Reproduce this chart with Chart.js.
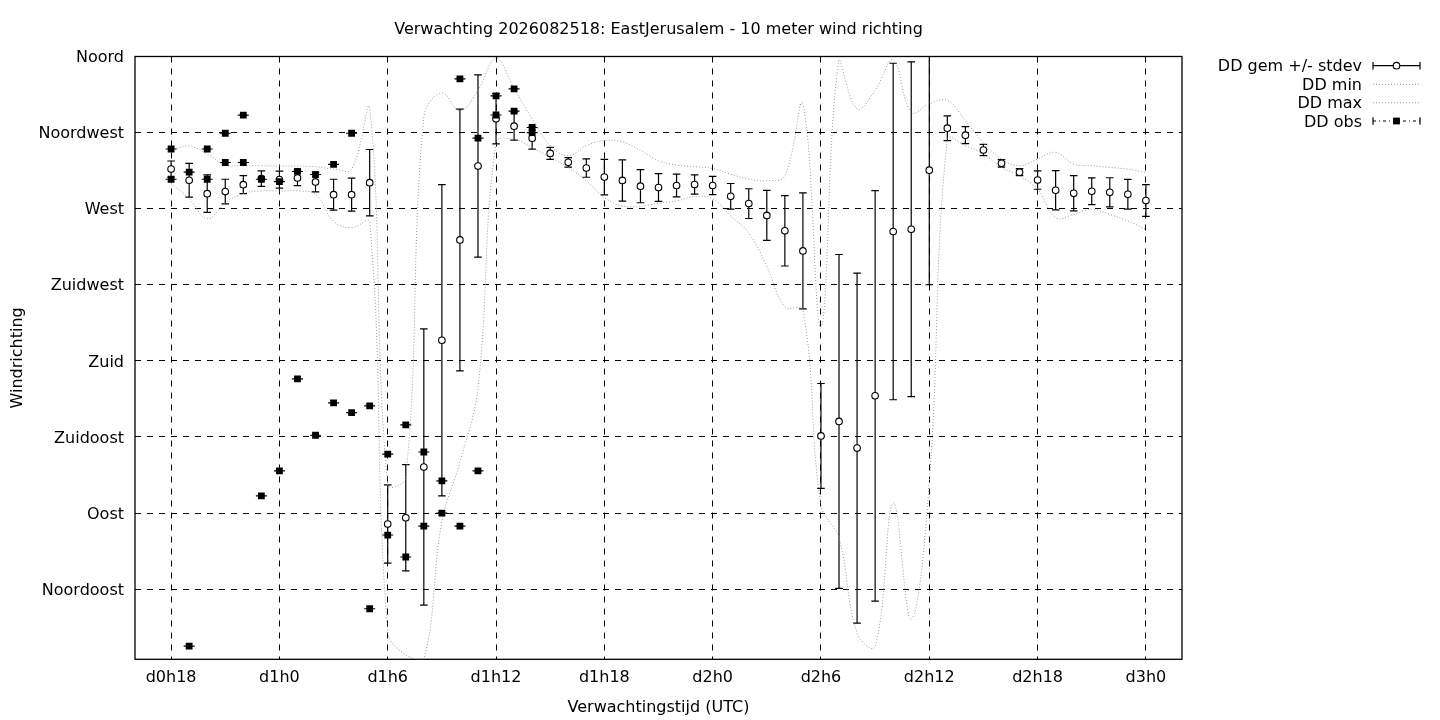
<!DOCTYPE html>
<html>
<head>
<meta charset="utf-8">
<title>Windrichting EastJerusalem</title>
<script src="https://cdn.jsdelivr.net/npm/chart.js@4.4.1/dist/chart.umd.min.js"></script>
<style>
  html, body { margin: 0; padding: 0; background: #fff; overflow: hidden; }
  #wrap { width: 1440px; height: 720px; }
</style>
</head>
<body>
<div id="wrap"><canvas id="chart" width="1440" height="720"></canvas></div>
<script>
const chartTitle = "Verwachting 2026082518: EastJerusalem - 10 meter wind richting";

// forecast hour, counted from d0h0
const hours = [18, 19, 20, 21, 22, 23, 24, 25, 26, 27, 28, 29, 30, 31, 32, 33, 34, 35, 36,
  37, 38, 39, 40, 41, 42, 43, 44, 45, 46, 47, 48, 49, 50, 51, 52, 53, 54, 55, 56, 57, 58,
  59, 60, 61, 62, 63, 64, 65, 66, 67, 68, 69, 70, 71, 72];

// ensemble mean wind direction (degrees) and its stdev
const meanDir = [293.4, 286.8, 278.9, 280.1, 284.2, 287.8, 287.2, 288.2, 285.8, 278.3, 278.3,
  285.4, 83.5, 87.2, 117.2, 192.2, 251.5, 295.2, 323.2, 318.8, 311.7, 302.7, 297.4, 294.0,
  288.7, 286.7, 283.3, 282.5, 283.7, 284.3, 283.7, 277.3, 273.0, 266.0, 256.9, 245.0, 135.6,
  144.2, 128.4, 159.3, 256.5, 257.8, 292.8, 317.6, 313.5, 304.7, 296.8, 291.6, 286.9, 280.9,
  279.1, 280.3, 279.7, 278.5, 274.8];
const stdDir = [4.8, 10.0, 11.1, 7.3, 5.3, 4.6, 5.0, 4.6, 5.9, 9.1, 9.8, 19.6, 23.1, 31.4,
  81.7, 92.0, 77.4, 53.9, 14.9, 8.3, 6.5, 3.6, 2.8, 5.4, 10.5, 12.2, 9.8, 8.2, 6.7, 5.7, 5.4,
  7.6, 8.8, 14.8, 20.8, 34.3, 31.0, 98.7, 103.5, 121.4, 99.5, 99.0, 67.8, 7.3, 5.0, 3.3, 2.2,
  2.1, 5.4, 11.6, 10.4, 7.9, 8.6, 8.8, 9.4];

// ensemble min / max
const minDir = [285, 276, 264, 273.5, 279, 280.5, 280.5, 280.5, 278.5, 262.6, 258.7, 262, 20,
  6, 3.5, 85, 120, 164, 309, 311, 306, 300.4, 294.4, 286.5, 276.5, 271.6, 271.5, 273.2, 274.6,
  277.1, 275.9, 265.6, 255.7, 235.9, 212, 210, 95, 75, 19, 11, 96, 27, 108, 311, 307.3, 302.3,
  294.4, 289.4, 281.5, 264.6, 266.6, 269.6, 266.6, 262.7, 257.7];
const maxDir = [304.5, 307, 302.3, 295.8, 295.4, 295.4, 295.2, 295.2, 294.8, 293.4, 293.4,
  329, 107, 111, 324, 338.5, 328, 340, 359, 341, 323.2, 307.3, 301.3, 307.3, 310.3, 309.5,
  304.5, 298.4, 295.8, 294.8, 293.8, 290.4, 287.5, 286.5, 289.4, 332, 200, 358, 329, 340, 358,
  327, 332, 334, 322, 309, 299.3, 295.4, 299.4, 303.3, 296.4, 295.4, 294.4, 293.4, 291.4];

// observations (two per hour)
const obsHours = [18, 18, 19, 19, 20, 20, 21, 21, 22, 22, 23, 23, 24, 24, 25, 25, 26, 26, 27, 27,
  28, 28, 29, 29, 30, 30, 31, 31, 32, 32, 33, 33, 34, 34, 35, 35, 36, 36, 37, 37, 38, 38];
const obsDir = [305.3, 287.4, 291.6, 11.3, 305.3, 287.4, 314.6, 297.3, 325.3, 297.3, 287.4,
  100.1, 286.0, 114.9, 292.0, 169.3, 290.2, 136.0, 296.2, 155.1, 314.6, 149.4, 153.4, 33.4,
  124.9, 77.0, 142.1, 64.0, 126.1, 82.3, 109.0, 90.0, 346.8, 82.3, 311.7, 114.9, 336.7, 325.4,
  340.8, 327.7, 318.0, 315.0];

const xTickValues = [18, 24, 30, 36, 42, 48, 54, 60, 66, 72];
const xTickLabels = ["d0h18", "d1h0", "d1h6", "d1h12", "d1h18", "d2h0", "d2h6", "d2h12", "d2h18", "d3h0"];
const yTickValues = [45, 90, 135, 180, 225, 270, 315, 360];
const yTickLabels = ["Noordoost", "Oost", "Zuidoost", "Zuid", "Zuidwest", "West", "Noordwest", "Noord"];

Chart.defaults.font.family = "'DejaVu Sans', sans-serif";
Chart.defaults.font.size = 16;
Chart.defaults.color = "#000";

const pts = (xs, ys) => xs.map((h, i) => ({ x: h, y: ys[i] }));

// error bars for the mean, tiny x-bars for obs, and the plot frame
const errorBars = {
  id: "errorBars",
  beforeDatasetsDraw(chart) {
    const { ctx, chartArea: a, scales: { x, y } } = chart;
    ctx.save();
    ctx.beginPath();
    ctx.rect(a.left, a.top, a.right - a.left, a.bottom - a.top);
    ctx.clip();
    ctx.strokeStyle = "#000";
    ctx.lineWidth = 1.2;
    ctx.setLineDash([]);
    hours.forEach((h, i) => {
      const px = x.getPixelForValue(h);
      const top = y.getPixelForValue(meanDir[i] + stdDir[i]);
      const bot = y.getPixelForValue(meanDir[i] - stdDir[i]);
      ctx.beginPath();
      ctx.moveTo(px, top); ctx.lineTo(px, bot);
      ctx.moveTo(px - 3.8, top); ctx.lineTo(px + 3.8, top);
      ctx.moveTo(px - 3.8, bot); ctx.lineTo(px + 3.8, bot);
      ctx.stroke();
    });
    obsHours.forEach((h, i) => {
      const px = x.getPixelForValue(h);
      const py = y.getPixelForValue(obsDir[i]);
      ctx.beginPath();
      ctx.moveTo(px - 5.5, py); ctx.lineTo(px + 5.5, py);
      ctx.stroke();
    });
    ctx.restore();

    ctx.save();
    ctx.strokeStyle = "#000";
    ctx.lineWidth = 1.3;
    ctx.strokeRect(a.left, a.top, a.right - a.left, a.bottom - a.top);
    ctx.restore();
  }
};

// title above the plot and the key at the right, gnuplot style
const keyBox = {
  id: "keyBox",
  afterDraw(chart) {
    const { ctx, chartArea: a } = chart;
    ctx.save();
    ctx.font = "16px 'DejaVu Sans', sans-serif";
    ctx.fillStyle = "#000";
    ctx.textBaseline = "middle";
    ctx.textAlign = "center";
    ctx.fillText(chartTitle, (a.left + a.right) / 2, 30);

    const textRight = 1362, x1 = 1373, x2 = 1420, xm = (x1 + x2) / 2;
    const rows = [65.7, 84.3, 102.7, 121];
    const labels = chart.data.datasets.map(d => d.label);
    ctx.textAlign = "right";
    [labels[1], labels[2], labels[3], labels[0]].forEach((t, i) => ctx.fillText(t, textRight, rows[i] + 1.5));

    ctx.strokeStyle = "#000";
    ctx.lineWidth = 1.2;
    // DD gem +/- stdev
    let yy = rows[0];
    ctx.beginPath();
    ctx.moveTo(x1, yy); ctx.lineTo(x2, yy);
    ctx.moveTo(x1, yy - 3.8); ctx.lineTo(x1, yy + 3.8);
    ctx.moveTo(x2, yy - 3.8); ctx.lineTo(x2, yy + 3.8);
    ctx.stroke();
    ctx.beginPath();
    ctx.arc(xm, yy, 3.3, 0, Math.PI * 2);
    ctx.fillStyle = "#fff";
    ctx.fill();
    ctx.lineWidth = 1.1;
    ctx.stroke();

    // DD min / DD max
    ctx.strokeStyle = "#9a9a9a";
    ctx.lineWidth = 1;
    ctx.setLineDash([1, 2]);
    [rows[1], rows[2]].forEach(r => {
      ctx.beginPath();
      ctx.moveTo(x1, r); ctx.lineTo(x2, r);
      ctx.stroke();
    });

    // DD obs
    yy = rows[3];
    ctx.strokeStyle = "#000";
    ctx.lineWidth = 1.2;
    ctx.setLineDash([3, 3, 1, 3]);
    ctx.beginPath();
    ctx.moveTo(x1, yy); ctx.lineTo(x2, yy);
    ctx.stroke();
    ctx.setLineDash([]);
    ctx.beginPath();
    ctx.moveTo(x1, yy - 3.8); ctx.lineTo(x1, yy + 3.8);
    ctx.moveTo(x2, yy - 3.8); ctx.lineTo(x2, yy + 3.8);
    ctx.stroke();
    ctx.fillStyle = "#000";
    ctx.fillRect(xm - 3.4, yy - 3.4, 6.8, 6.8);
    ctx.restore();
  }
};

const gridOpts = { color: "#000", lineWidth: 1, drawTicks: false, borderDash: [6, 6] };
const borderOpts = { display: false, dash: [6, 6] };

new Chart(document.getElementById("chart"), {
  type: "scatter",
  data: {
    datasets: [
      {
        label: "DD obs",
        data: pts(obsHours, obsDir),
        pointStyle: "rect",
        pointRadius: 4.8,
        backgroundColor: "#000",
        borderWidth: 0,
        order: 0
      },
      {
        label: "DD gem +/- stdev",
        data: pts(hours, meanDir),
        pointStyle: "circle",
        pointRadius: 3.3,
        backgroundColor: "#fff",
        borderColor: "#000",
        borderWidth: 1.1,
        order: 1
      },
      {
        label: "DD min",
        data: pts(hours, minDir),
        showLine: true,
        tension: 0.4,
        pointRadius: 0,
        borderColor: "#9a9a9a",
        borderWidth: 1,
        borderDash: [1, 2],
        order: 2
      },
      {
        label: "DD max",
        data: pts(hours, maxDir),
        showLine: true,
        tension: 0.4,
        pointRadius: 0,
        borderColor: "#9a9a9a",
        borderWidth: 1,
        borderDash: [1, 2],
        order: 3
      }
    ]
  },
  options: {
    responsive: false,
    animation: false,
    events: [],
    layout: { padding: { top: 56.5, right: 258, bottom: 0, left: 0 } },
    plugins: {
      legend: { display: false },
      title: { display: false },
      tooltip: { enabled: false }
    },
    scales: {
      x: {
        type: "linear",
        min: 16,
        max: 74,
        afterBuildTicks: s => { s.ticks = xTickValues.map(v => ({ value: v })); },
        afterFit: s => { s.height = 60.7; s.paddingLeft = 0; s.paddingRight = 0; },
        ticks: {
          callback: v => xTickLabels[xTickValues.indexOf(v)],
          padding: 8.5,
          autoSkip: false,
          maxRotation: 0,
          color: "#000"
        },
        grid: gridOpts,
        border: borderOpts,
        title: { display: true, text: "Verwachtingstijd (UTC)", color: "#000", padding: { top: 0, bottom: 3 } }
      },
      y: {
        type: "linear",
        min: 3.5,
        max: 360,
        afterBuildTicks: s => { s.ticks = yTickValues.map(v => ({ value: v })); },
        afterFit: s => { s.width = 135; s.paddingTop = 0; s.paddingBottom = 0; },
        ticks: {
          callback: v => yTickLabels[yTickValues.indexOf(v)],
          padding: 11,
          labelOffset: 1.5,
          color: "#000"
        },
        grid: gridOpts,
        border: borderOpts,
        title: { display: true, text: "Windrichting", color: "#000", padding: { top: 8.5, bottom: 0 } }
      }
    }
  },
  plugins: [errorBars, keyBox]
});
</script>
</body>
</html>
